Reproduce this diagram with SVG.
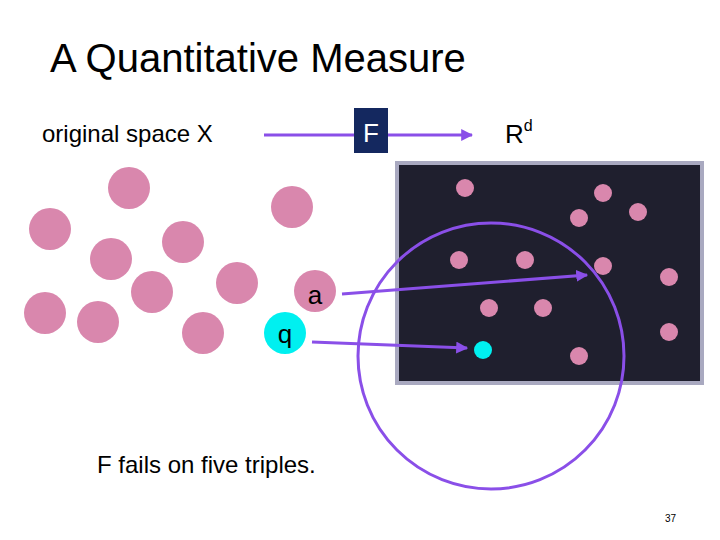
<svg xmlns="http://www.w3.org/2000/svg" width="720" height="540" viewBox="0 0 720 540">
<defs>
<style>
text{font-family:"Liberation Sans",Arial,sans-serif;fill:#000}
.p{fill:#d987ad}
.c{stroke:#8a4fe8;stroke-width:3;fill:none}
</style>
<marker id="ah" viewBox="0 0 10 10" refX="9" refY="5" markerWidth="4" markerHeight="4" orient="auto"><path d="M0,0L10,5L0,10z" fill="#8a4fe8"/></marker>
</defs>
<rect width="720" height="540" fill="#fff"/>
<text x="50" y="72" font-size="40">A Quantitative Measure</text>
<text x="42" y="142" font-size="24">original space X</text>
<text x="97" y="473" font-size="24">F fails on five triples.</text>
<text x="665" y="522" font-size="10">37</text>
<g id="space">
<rect x="397" y="163" width="305" height="220" fill="#1f1f2e" stroke="#a9a9c0" stroke-width="4"/>
<g class="p">
<circle cx="465" cy="188" r="9"/><circle cx="603" cy="193" r="9"/><circle cx="579" cy="218" r="9"/><circle cx="638" cy="212" r="9"/>
<circle cx="459" cy="260" r="9"/><circle cx="525" cy="260" r="9"/><circle cx="603" cy="266" r="9"/><circle cx="669" cy="277" r="9"/>
<circle cx="489" cy="308" r="9"/><circle cx="543" cy="308" r="9"/><circle cx="669" cy="332" r="9"/><circle cx="579" cy="356" r="9"/>
</g>
<circle cx="483" cy="350" r="9" fill="#00f0f0"/>
</g>
<g id="left" class="p">
<circle cx="129" cy="188" r="21"/><circle cx="292" cy="207" r="21"/><circle cx="50" cy="229" r="21"/><circle cx="183" cy="242" r="21"/>
<circle cx="111" cy="259" r="21"/><circle cx="237" cy="283" r="21"/><circle cx="152" cy="292" r="21"/><circle cx="45" cy="313" r="21"/>
<circle cx="98" cy="322" r="21"/><circle cx="203" cy="333" r="21"/>
</g>
<g id="a"><circle class="p" cx="315" cy="291" r="21"/><text x="315" y="304" font-size="26" text-anchor="middle">a</text></g>
<g id="q"><circle cx="285" cy="333" r="21" fill="#00f0f0"/><text x="285" y="343" font-size="26" text-anchor="middle">q</text></g>
<g id="connectors">
<circle class="c" cx="491" cy="356" r="133"/>
<line class="c" x1="264" y1="135" x2="472" y2="135" marker-end="url(#ah)"/>
<line class="c" x1="342" y1="294" x2="587" y2="275" marker-end="url(#ah)"/>
<line class="c" x1="312" y1="342" x2="467" y2="348" marker-end="url(#ah)"/>
</g>
<g id="F"><rect x="354" y="108" width="34" height="45" fill="#14285f"/><text x="371" y="142" font-size="26" text-anchor="middle" style="fill:#fff">F</text></g>
<g id="Rd"><text x="505" y="143" font-size="26">R<tspan font-size="16" dy="-12">d</tspan></text></g>
</svg>
